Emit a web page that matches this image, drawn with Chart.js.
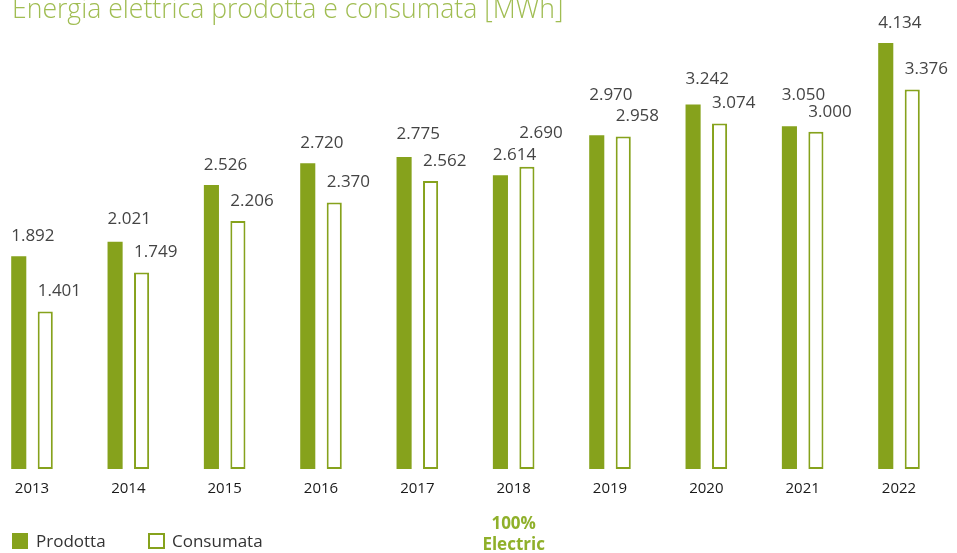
<!DOCTYPE html>
<html>
<head>
<meta charset="utf-8">
<script src="https://cdn.jsdelivr.net/npm/chart.js@4"></script>
<style>
  html, body { margin: 0; padding: 0; background: #fff; }
  #wrap { width: 957px; height: 553px; position: relative; }
</style>
</head>
<body>
<div id="wrap"><canvas id="energyChart" width="957" height="553"></canvas></div>
<script>
const years = ['2013', '2014', '2015', '2016', '2017', '2018', '2019', '2020', '2021', '2022'];
const prodotta = [1892, 2021, 2526, 2720, 2775, 2614, 2970, 3242, 3050, 4134];
const consumata = [1401, 1749, 2206, 2370, 2562, 2690, 2958, 3074, 3000, 3376];
// extra lift of the value labels where the original moved them up
const liftProdotta = [0, 3, 0, 0, 3, 0, 20, 5, 11, 0];
const liftConsumata = [0, 0, 0, 0, 0, 13, 0, 0, 0, 0];

const green = '#86a21c';
const titleGreen = '#a0bd52';

function fmt(v) {
    // Italian thousands separator
    return Math.floor(v / 1000) + '.' + String(v % 1000).padStart(3, '0');
}

const decorPlugin = {
    id: 'decor',
    afterDatasetsDraw(chart) {
        const ctx = chart.ctx;
        const area = chart.chartArea;
        const lifts = [liftProdotta, liftConsumata];
        ctx.save();
        ctx.font = '17px "Open Sans"';
        ctx.fillStyle = '#444';
        ctx.textAlign = 'left';
        ctx.textBaseline = 'middle';
        chart.data.datasets.forEach((ds, di) => {
            chart.getDatasetMeta(di).data.forEach((bar, i) => {
                const top = Math.max(bar.y, area.top);
                ctx.fillText(fmt(ds.data[i]), bar.x - bar.width / 2, top - 20 - lifts[di][i]);
            });
        });

        // title
        ctx.font = '300 26.6px "Open Sans"';
        ctx.fillStyle = titleGreen;
        ctx.textBaseline = 'alphabetic';
        ctx.fillText('Energia elettrica prodotta e consumata [MWh]', 12, 18);

        // legend
        ctx.font = '17px "Open Sans"';
        ctx.fillStyle = green;
        ctx.fillRect(12, 533, 16, 16);
        ctx.strokeStyle = green;
        ctx.lineWidth = 2;
        ctx.strokeRect(149, 534, 15, 14);
        ctx.fillStyle = '#333';
        ctx.textBaseline = 'middle';
        ctx.fillText('Prodotta', 36, 542);
        ctx.fillText('Consumata', 172, 542);

        // note under 2018
        const x2018 = chart.scales.x.getPixelForValue(5);
        ctx.font = 'bold 17px "Open Sans"';
        ctx.fillStyle = '#8fb02a';
        ctx.textAlign = 'center';
        ctx.fillText('100%', x2018, 524);
        ctx.fillText('Electric', x2018, 545);
        ctx.restore();
    }
};

const ctxEnergy = document.getElementById('energyChart').getContext('2d');

const energyChart = new Chart(ctxEnergy, {
    type: 'bar',
    data: {
        labels: years,
        datasets: [{
            label: 'Prodotta',
            data: prodotta,
            backgroundColor: green,
            borderWidth: 0,
            clip: { left: false, right: false, top: 0, bottom: false }
        }, {
            label: 'Consumata',
            data: consumata,
            backgroundColor: '#fff',
            borderColor: green,
            borderWidth: 2,
            borderSkipped: false,
            clip: { left: false, right: false, top: 0, bottom: false }
        }]
    },
    options: {
        responsive: false,
        animation: false,
        devicePixelRatio: 1,
        categoryPercentage: 0.55,
        barPercentage: 0.57,
        layout: {
            padding: { left: 32, right: 58, top: 43, bottom: 44 }
        },
        plugins: {
            legend: { display: false },
            tooltip: { enabled: false }
        },
        scales: {
            x: {
                offset: false,
                grid: { display: false, drawTicks: false, offset: false },
                border: { display: false },
                ticks: {
                    color: '#1a1a1a',
                    padding: 11,
                    font: { family: 'Open Sans', size: 15, weight: '500' },
                    maxRotation: 0
                }
            },
            y: {
                display: false,
                min: 0,
                max: 3790
            }
        }
    },
    plugins: [decorPlugin]
});
</script>
</body>
</html>
